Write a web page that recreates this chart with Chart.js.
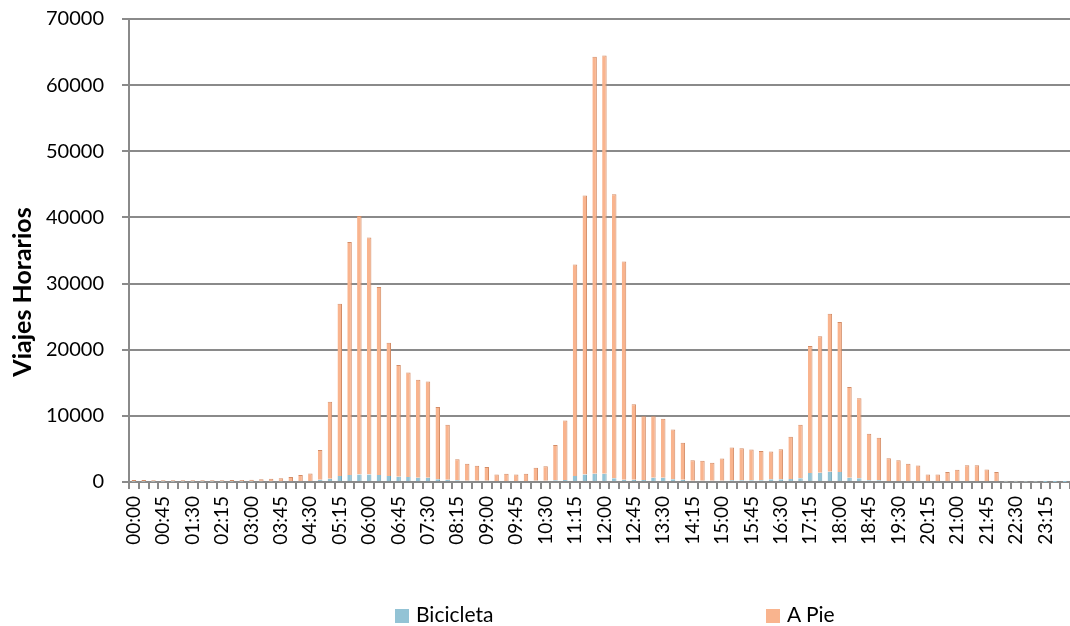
<!DOCTYPE html>
<html>
<head>
<meta charset="utf-8">
<script src="https://cdn.jsdelivr.net/npm/chart.js@4.4.1/dist/chart.umd.min.js"></script>
<style>
  body { margin: 0; background: #fff; }
  #wrap { position: relative; width: 1070px; height: 626px; }
  #legend { position: absolute; top: 601px; left: 0; width: 1070px; font: 21px Lato, sans-serif; color: #000; }
  .lg { position: absolute; top: 0; white-space: nowrap; }
  .lg i { display: inline-block; width: 14px; height: 14px; margin-right: 7px; vertical-align: -1px; }
</style>
</head>
<body>
<div id="wrap">
  <canvas id="c"></canvas>
  <div id="legend">
    <span class="lg" style="left:395px"><i style="background:#93c3d5"></i>Bicicleta</span>
    <span class="lg" style="left:766px"><i style="background:#f9b48e"></i>A Pie</span>
  </div>
</div>
<script>
// franjas de 15 minutos
const horas = [
  '00:00','00:15','00:30','00:45','01:00','01:15','01:30','01:45',
  '02:00','02:15','02:30','02:45','03:00','03:15','03:30','03:45',
  '04:00','04:15','04:30','04:45','05:00','05:15','05:30','05:45',
  '06:00','06:15','06:30','06:45','07:00','07:15','07:30','07:45',
  '08:00','08:15','08:30','08:45','09:00','09:15','09:30','09:45',
  '10:00','10:15','10:30','10:45','11:00','11:15','11:30','11:45',
  '12:00','12:15','12:30','12:45','13:00','13:15','13:30','13:45',
  '14:00','14:15','14:30','14:45','15:00','15:15','15:30','15:45',
  '16:00','16:15','16:30','16:45','17:00','17:15','17:30','17:45',
  '18:00','18:15','18:30','18:45','19:00','19:15','19:30','19:45',
  '20:00','20:15','20:30','20:45','21:00','21:15','21:30','21:45',
  '22:00','22:15','22:30','22:45','23:00','23:15','23:30','23:45'
];

const bicicleta = [
  40, 40, 30, 30, 30, 30, 30, 30,
  30, 30, 40, 40, 50, 60, 70, 80,
  100, 130, 160, 350, 500, 900, 1050, 1150,
  1150, 1050, 900, 800, 750, 650, 650, 400,
  350, 250, 200, 200, 200, 150, 150, 150,
  150, 200, 200, 250, 300, 900, 1150, 1250,
  1250, 550, 350, 350, 300, 650, 650, 400,
  350, 200, 200, 200, 200, 250, 250, 250,
  250, 400, 400, 450, 550, 1350, 1400, 1550,
  1500, 650, 550, 250, 250, 150, 150, 120,
  120, 100, 100, 100, 100, 120, 120, 100,
  100, 20, 20, 20, 20, 10, 10, 10
];

const aPie = [
  260, 250, 250, 240, 230, 220, 220, 220,
  230, 250, 260, 280, 300, 360, 410, 500,
  650, 920, 1140, 4500, 11650, 26050, 35250, 39050,
  35800, 28450, 20150, 16900, 15800, 14800, 14550, 10950,
  8300, 3200, 2550, 2250, 2050, 1000, 1100, 1000,
  1100, 1950, 2200, 5350, 9000, 32000, 42150, 63050,
  63250, 42950, 33000, 11400, 9650, 9300, 8900, 7550,
  5600, 3100, 3000, 2700, 3350, 4950, 4850, 4650,
  4450, 4200, 4550, 6400, 8100, 19200, 20650, 23900,
  22700, 13700, 12100, 7050, 6450, 3450, 3150, 2630,
  2380, 1050, 1050, 1400, 1750, 2430, 2430, 1800,
  1400, 180, 160, 130, 130, 110, 90, 70
];

const GRIS = '#8a8a8a';
const FUENTE = 'Lato, "Open Sans", sans-serif';

// título del eje Y, algo desplazado hacia abajo como en el original
const tituloY = {
  id: 'tituloY',
  afterDraw(chart) {
    const ctx = chart.ctx;
    ctx.save();
    ctx.translate(23, 292);
    ctx.rotate(-Math.PI / 2);
    ctx.font = 'bold 25px ' + FUENTE;
    ctx.fillStyle = '#000';
    ctx.textAlign = 'center';
    ctx.textBaseline = 'middle';
    ctx.fillText('Viajes Horarios', 0, 0);
    ctx.restore();
  }
};

new Chart(document.getElementById('c'), {
  type: 'bar',
  data: {
    labels: horas,
    datasets: [
      { label: 'Bicicleta', data: bicicleta, backgroundColor: '#93c3d5',
        borderColor: '#6fa3b6', borderWidth: { right: 1, left: 0, top: 0, bottom: 0 }, borderSkipped: false },
      { label: 'A Pie', data: aPie, backgroundColor: '#f9b48e',
        borderColor: '#d38c66', borderWidth: { right: 1, left: 0, top: 1, bottom: 0 }, borderSkipped: false }
    ]
  },
  options: {
    responsive: true, maintainAspectRatio: false, animation: false,
    categoryPercentage: 1, barPercentage: 0.46,
    layout: { padding: { top: 19, right: 0, bottom: 0, left: 0 } },
    plugins: { legend: { display: false }, tooltip: { enabled: false } },
    scales: {
      x: {
        stacked: true,
        grid: { drawOnChartArea: false, drawTicks: true, tickLength: 7, color: GRIS, lineWidth: 2, offset: true },
        border: { color: GRIS, width: 2 },
        ticks: {
          autoSkip: false, minRotation: 90, maxRotation: 90, padding: 7,
          color: '#000', font: { family: FUENTE, size: 19 },
          callback: function (v, i) { return i % 3 === 0 ? this.getLabelForValue(v) : ''; }
        },
        afterFit: s => { s.height = 144; s.paddingLeft = 0; s.paddingRight = 0; }
      },
      y: {
        stacked: true, min: 0, max: 70000,
        grid: { color: GRIS, lineWidth: 2, tickLength: 7 },
        border: { color: GRIS, width: 2 },
        ticks: { stepSize: 10000, padding: 18, color: '#000', font: { family: FUENTE, size: 20 }, callback: v => String(v) },
        afterFit: s => { s.width = 129; s.paddingTop = 0; s.paddingBottom = 0; }
      }
    }
  },
  plugins: [tituloY]
});
</script>
</body>
</html>
